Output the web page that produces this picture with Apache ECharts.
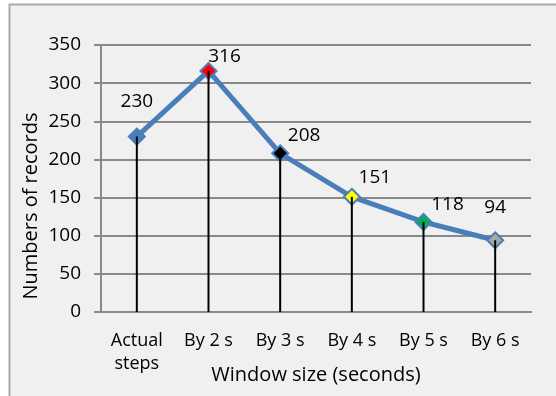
<!DOCTYPE html>
<html>
<head>
<meta charset="utf-8">
<script src="https://cdn.jsdelivr.net/npm/echarts@6/dist/echarts.min.js"></script>
<style>
  html, body { margin: 0; padding: 0; background: #ffffff; }
  #chart { width: 556px; height: 396px; }
</style>
</head>
<body>
<div id="chart"></div>
<script>
// Window sizes and the number of records produced by each
var categories = ['Actual\nsteps', 'By 2 s', 'By 3 s', 'By 4 s', 'By 5 s', 'By 6 s'];
var records = [230, 316, 208, 151, 118, 94];
var yTicks = { min: 0, max: 350, step: 50 };

// Marker fill per point and where each value label sits relative to its marker
var markerFills = ['#4a7ebb', '#ff0000', '#000000', '#ffff00', '#00b050', '#a6a6a6'];
var labelOffsets = [[0, -35], [16, -14], [24, -18], [23, -19], [24, -17], [0, -33]];

var FONT = '"Open Sans", sans-serif';
var GRID_GRAY = '#898989';

var lineData = records.map(function (v, i) {
  return {
    value: v,
    itemStyle: { color: markerFills[i] },
    label: { offset: labelOffsets[i] }
  };
});

var chart = echarts.init(document.getElementById('chart'), null, { renderer: 'canvas' });
chart.setOption({
  backgroundColor: 'transparent',
  animation: false,
  graphic: [
    {
      type: 'rect',
      z: -10,
      shape: { x: 9.5, y: 4.5, width: 560, height: 400 },
      style: { fill: '#f0f0f0', stroke: '#a9a9a9', lineWidth: 2 }
    },
    {
      type: 'text',
      x: 31, y: 206,
      rotation: Math.PI / 2,
      style: {
        text: 'Numbers of records',
        font: '20px ' + FONT,
        fill: '#000000',
        align: 'center',
        verticalAlign: 'middle'
      }
    }
  ],
  grid: { left: 101, right: 25, top: 45, bottom: 84, containLabel: false, outerBoundsMode: 'none' },
  xAxis: {
    type: 'category',
    data: categories,
    boundaryGap: true,
    axisLine: { show: true, lineStyle: { color: GRID_GRAY, width: 2 } },
    axisTick: { show: false },
    axisLabel: {
      color: '#000000', fontFamily: FONT, fontSize: 18,
      lineHeight: 23, margin: 17, interval: 0
    },
    name: 'Window size (seconds)',
    nameLocation: 'middle',
    nameGap: 53,
    nameMoveOverlap: false,
    nameTextStyle: { color: '#000000', fontFamily: FONT, fontSize: 20 }
  },
  yAxis: {
    type: 'value',
    min: yTicks.min, max: yTicks.max, interval: yTicks.step,
    axisLine: { show: true, lineStyle: { color: GRID_GRAY, width: 2 } },
    axisTick: { show: true, length: 7, lineStyle: { color: GRID_GRAY, width: 2 } },
    axisLabel: { color: '#000000', fontFamily: FONT, fontSize: 19, margin: 20 },
    splitLine: { show: true, lineStyle: { color: GRID_GRAY, width: 2 } }
  },
  series: [
    {
      // vertical drop lines from each point down to the axis
      type: 'bar',
      data: records,
      barWidth: 2,
      itemStyle: { color: '#000000' },
      z: 4,
      silent: true
    },
    {
      type: 'line',
      data: lineData,
      symbol: 'diamond',
      symbolSize: 16,
      lineStyle: { color: '#4a7ebb', width: 5 },
      itemStyle: { borderColor: '#4a7ebb', borderWidth: 2 },
      label: {
        show: true,
        position: 'inside',
        color: '#000000',
        fontFamily: FONT,
        fontSize: 19
      },
      z: 3
    }
  ]
});
</script>
</body>
</html>
